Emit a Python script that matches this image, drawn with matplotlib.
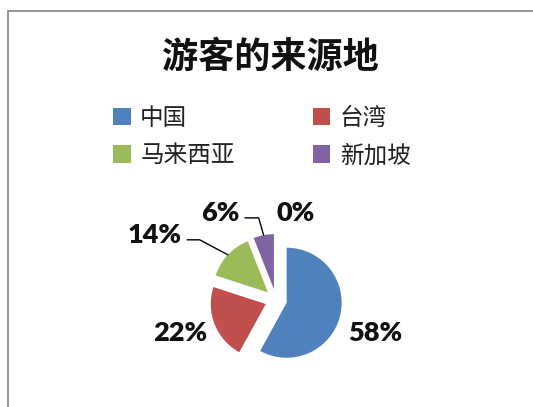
import numpy as np
import matplotlib.pyplot as plt
from matplotlib.patches import Rectangle

plt.rcParams['font.family'] = ['Noto Sans CJK SC', 'DejaVu Sans']

title = '游客的来源地'
categories = ['中国', '台湾', '马来西亚', '新加坡', '']
shares = [58, 22, 14, 6, 0]
pct_labels = ['58%', '22%', '14%', '6%', '0%']
colors = ['#4F81BD', '#C0504D', '#9BBB59', '#8064A2', '#4BACC6']

# label layout: distance from pie centre (radius units) and angle shift from wedge middle
label_dist = [1.90, 1.85, 2.50, 1.88, 1.62]
label_shift = [-4, -2.7, 15, 22, -12.5]

W, H = 533, 407
cx, cy, R = 276, 300, 55  # pie centre / radius in pixels (from top)

fig = plt.figure(figsize=(W / 100, H / 100), dpi=100)
ax = fig.add_axes([0, 0, 1, 1])

wedges, _ = ax.pie(shares, colors=colors, startangle=90, counterclock=False,
                   explode=[0.2] * len(shares), radius=1,
                   wedgeprops=dict(linewidth=0))
ax.set_xlim(-cx / R, (W - cx) / R)
ax.set_ylim(-(H - cy) / R, cy / R)
ax.set_aspect('equal')
ax.axis('off')

for i, w in enumerate(wedges):
    mid = np.deg2rad((w.theta1 + w.theta2) / 2)
    ang = mid + np.deg2rad(label_shift[i])
    tx, ty = label_dist[i] * np.cos(ang), label_dist[i] * np.sin(ang)
    kw = dict(ha='center', va='center', fontsize=19.5, fontweight='heavy',
              family=['Lato', 'DejaVu Sans'], color='#111111')
    if pct_labels[i] in ('14%', '6%'):
        ex, ey = w.center
        px, py = ex + np.cos(mid), ey + np.sin(mid)
        angB = -28 if pct_labels[i] == '14%' else -74
        relpos = (1.1, 0.3) if pct_labels[i] == '14%' else (1.15, 0.3)
        ax.annotate(pct_labels[i], xy=(px, py), xytext=(tx, ty),
                    arrowprops=dict(arrowstyle='-', color='black', lw=1,
                                    shrinkA=0, shrinkB=0, relpos=relpos,
                                    connectionstyle=f'angle,angleA=0,angleB={angB},rad=0'),
                    **kw)
    else:
        ax.text(tx, ty, pct_labels[i], **kw)

fig.text(270 / W, 1 - 57 / H, title, ha='center', va='center', fontsize=26,
         fontweight='bold', color='#111111')

order = [0, 1, 2, 3]
row_major = [order[0], order[2], order[1], order[3]]  # legend fills by column
fig.legend([wedges[k] for k in row_major], [categories[k] for k in row_major],
           ncol=2, frameon=False,
           loc='upper left', bbox_to_anchor=(113 / W, 1 - 107 / H),
           borderpad=0, borderaxespad=0, fontsize=17,
           handlelength=0.75, handleheight=0.75, handletextpad=0.4,
           columnspacing=3.3, labelspacing=0.6, labelcolor='#222222')

fig.add_artist(Rectangle((8 / W, -0.1), 1.2, 1.1 - 11 / H, transform=fig.transFigure,
                         fill=False, edgecolor='#8c8c8c', linewidth=1.3))

fig.savefig('out.png', dpi=100)
